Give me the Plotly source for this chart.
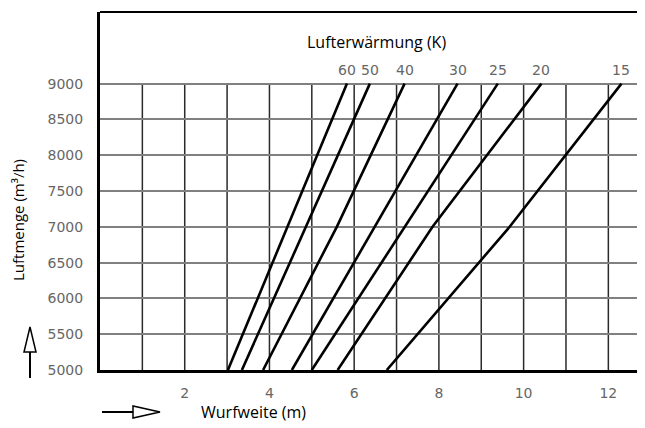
import plotly.graph_objects as go

# Data: Lufterwärmung (K) curves, Wurfweite (m) read at Luftmenge 5000 / 7000 / 9000 m3/h
airflow = [5000, 7000, 9000]
curve_labels = ["60", "50", "40", "30", "25", "20", "15"]
throw_60 = [3.02, 4.43, 5.83]
throw_50 = [3.35, 4.86, 6.37]
throw_40 = [3.85, 5.59, 7.19]
throw_30 = [4.53, 6.49, 8.44]
throw_25 = [5.00, 7.19, 9.39]
throw_20 = [5.61, 7.85, 10.42]
throw_15 = [6.77, 9.67, 12.31]
curves = [throw_60, throw_50, throw_40, throw_30, throw_25, throw_20, throw_15]

x_ticks = [2, 4, 6, 8, 10, 12]
x_grid = [1, 2, 3, 4, 5, 6, 7, 8, 9, 10, 11, 12]
y_ticks = [5000, 5500, 6000, 6500, 7000, 7500, 8000, 8500, 9000]

X_MAX = 12.7
Y_MAX = 10000

fig = go.Figure()
for lab, xs in zip(curve_labels, curves):
    fig.add_trace(go.Scatter(x=xs, y=airflow, mode="lines",
                             line=dict(color="black", width=2.6),
                             showlegend=False, hoverinfo="skip", name=lab))

shapes = []
# vertical grid lines (only up to 9000)
for gx in x_grid:
    shapes.append(dict(type="line", xref="x", yref="y", x0=gx, x1=gx,
                       y0=y_ticks[0], y1=y_ticks[-1],
                       line=dict(color="#2a2a2a", width=1.5), layer="below"))
# top border
shapes.append(dict(type="line", xref="paper", yref="paper", x0=0, x1=1, y0=1, y1=1,
                   line=dict(color="black", width=2.2)))
# faint right edge
shapes.append(dict(type="line", xref="paper", yref="paper", x0=1, x1=1, y0=0, y1=1,
                   line=dict(color="#e4e4e4", width=2)))

# positions measured in screen pixels of the reference, converted to paper coordinates
L, T, W, H = 100, 12, 538, 358
def px(xp):
    return (xp - L) / W
def py(yp):
    return (T + H - yp) / H

# up arrow
shapes.append(dict(type="line", xref="paper", yref="paper",
                   x0=px(30), x1=px(30), y0=py(378), y1=py(352),
                   line=dict(color="black", width=2)))
shapes.append(dict(type="path", xref="paper", yref="paper",
                   path=f"M {px(24)} {py(352)} L {px(36)} {py(352)} L {px(30)} {py(327)} Z",
                   line=dict(color="black", width=1.5), fillcolor="white"))
# right arrow
shapes.append(dict(type="line", xref="paper", yref="paper",
                   x0=px(102), x1=px(133), y0=py(412), y1=py(412),
                   line=dict(color="black", width=2)))
shapes.append(dict(type="path", xref="paper", yref="paper",
                   path=f"M {px(133)} {py(406)} L {px(133)} {py(418)} L {px(160)} {py(412)} Z",
                   line=dict(color="black", width=1.5), fillcolor="white"))

annotations = []
for lab, xs in zip(curve_labels, curves):
    annotations.append(dict(x=xs[-1], y=airflow[-1], xref="x", yref="y", text=lab,
                            showarrow=False, yshift=14, xanchor="center", yanchor="middle",
                            font=dict(family="DejaVu Sans", size=14, color="#666666")))
annotations.append(dict(x=px(376), y=py(42), xref="paper", yref="paper",
                        text="Lufterwärmung (K)", showarrow=False,
                        xanchor="center", yanchor="middle",
                        font=dict(family="Open Sans", size=16, color="black")))
annotations.append(dict(x=px(253), y=py(412), xref="paper", yref="paper",
                        text="Wurfweite (m)", showarrow=False,
                        xanchor="center", yanchor="middle",
                        font=dict(family="Open Sans", size=16, color="black")))
annotations.append(dict(x=px(18), y=py(220), xref="paper", yref="paper",
                        text="Luftmenge (m³/h)", showarrow=False, textangle=-90,
                        xanchor="center", yanchor="middle",
                        font=dict(family="Open Sans", size=15, color="black")))

# page has an 8px body margin: shrink the figure so the plot lands at the reference position
OFF = 8
fig.update_layout(
    width=645 - OFF, height=428 - OFF,
    margin=dict(l=L - OFF, r=645 - OFF - (L - OFF) - W, t=T - OFF, b=428 - OFF - (T - OFF) - H),
    paper_bgcolor="white", plot_bgcolor="white",
    shapes=shapes, annotations=annotations,
    xaxis=dict(range=[0, X_MAX], tickvals=x_ticks, showgrid=False, zeroline=False,
               showline=True, linecolor="black", linewidth=3,
               ticks="outside", ticklen=8, tickcolor="rgba(0,0,0,0)",
               tickfont=dict(family="DejaVu Sans", size=14, color="#666666")),
    yaxis=dict(range=[5000, Y_MAX], tickvals=y_ticks, showgrid=True,
               gridcolor="#808080", gridwidth=2, zeroline=False,
               showline=True, linecolor="black", linewidth=3,
               ticks="outside", ticklen=11, tickcolor="rgba(0,0,0,0)",
               tickfont=dict(family="DejaVu Sans", size=14, color="#666666")),
)

fig.write_html("out.html")
